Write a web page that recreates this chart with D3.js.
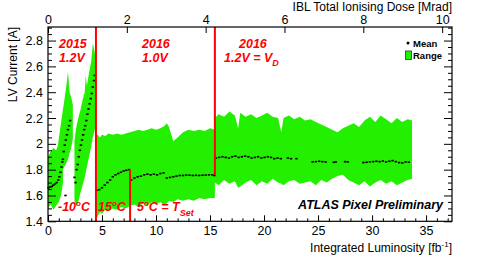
<!DOCTYPE html>
<html>
<head>
<meta charset="utf-8">
<script src="https://cdn.jsdelivr.net/npm/d3@7"></script>
<style>
  body { margin: 0; background: #fff; }
  svg { font-family: "Liberation Sans", Arial, Helvetica, sans-serif; }
</style>
</head>
<body>
<svg width="485" height="264"></svg>
<script>
// --- data ---
// green "Range" band, null = gap between runs
var bandLumi = [0, 0.25, 0.5, 0.75, 1.0, 1.2, 1.4, null,
  0.9, 1.1, 1.3, 1.5, 1.7, 1.85, 2.0, 2.15, 2.3, null,
  2.45, 2.6, 2.8, 3.0, 3.2, 3.4, 3.5, 3.6, 3.8, 4.0, 4.15, 4.3, 4.4, null,
  4.45, 4.6, 4.8, 5.0, 5.3, 5.6, 6.0, 6.4, 6.8, 7.2, 7.6, 8.0, 8.4, 8.8, 9.2, 9.6, 10.0, 10.4, 10.8, 11.0, 11.2, 11.6, 12.0, 12.5, 13.0, 13.5, 14.0, 14.5, 15.0, 15.45,
  15.45, 15.8, 16.3, 16.8, 17.3, 17.6, 17.8, 18.3, 18.8, 19.3, 19.8, 20.3, 20.8, 21.3, 21.6, 21.8, 22.3, 22.8, 23.3, 23.8, 24.3, 24.8, 25.3, 25.8, 26.3, 26.8, 27.3, 27.8, 28.3, 28.8, 29.3, 29.8, 30.3, 30.8, 31.3, 31.8, 32.3, 32.8, 33.3, 33.7];
var bandMin = [1.50, 1.53, 1.49, 1.52, 1.55, 1.60, 1.70, null,
  1.74, 1.76, 1.79, 1.82, 1.85, 1.88, 1.93, 1.97, 2.04, null,
  1.56, 1.52, 1.55, 1.62, 1.68, 1.74, 1.78, 1.82, 1.90, 1.98, 2.05, 2.10, 2.14, null,
  1.41, 1.44, 1.47, 1.46, 1.49, 1.48, 1.50, 1.49, 1.51, 1.50, 1.52, 1.53, 1.51, 1.54, 1.52, 1.55, 1.53, 1.55, 1.52, 1.54, 1.56, 1.55, 1.57, 1.56, 1.57, 1.56, 1.58, 1.57, 1.58, 1.58,
  1.70, 1.68, 1.72, 1.69, 1.71, 1.66, 1.67, 1.70, 1.72, 1.68, 1.71, 1.69, 1.73, 1.70, 1.69, 1.68, 1.71, 1.72, 1.69, 1.70, 1.71, 1.68, 1.72, 1.70, 1.73, 1.75, 1.76, 1.72, 1.70, 1.68, 1.71, 1.67, 1.70, 1.72, 1.69, 1.71, 1.68, 1.70, 1.72, 1.73];
var bandMax = [1.90, 1.94, 1.97, 1.95, 2.00, 2.04, 2.08, null,
  1.98, 2.10, 2.22, 2.33, 2.45, 2.56, 2.40, 2.36, 2.30, null,
  2.02, 2.12, 2.20, 2.26, 2.34, 2.40, 2.53, 2.45, 2.55, 2.64, 2.78, 2.72, 2.66, null,
  2.06, 2.07, 2.05, 2.07, 2.06, 2.08, 2.07, 2.08, 2.07, 2.08, 2.09, 2.10, 2.11, 2.10, 2.11, 2.12, 2.11, 2.12, 2.14, 2.16, 2.13, 2.02, 2.05, 2.09, 2.11, 2.10, 2.11, 2.10, 2.12, 2.11,
  2.20, 2.23, 2.21, 2.25, 2.22, 2.12, 2.24, 2.21, 2.23, 2.20, 2.22, 2.24, 2.21, 2.20, 2.09, 2.20, 2.22, 2.19, 2.21, 2.18, 2.19, 2.17, 2.15, 2.13, 2.11, 2.09, 2.12, 2.14, 2.16, 2.13, 2.18, 2.21, 2.17, 2.22, 2.19, 2.16, 2.20, 2.17, 2.19, 2.18];

// black "Mean" points
var meanLumi = [0.05, 0.2, 0.35, 0.5, 0.65, 0.8, 0.95, 1.05, 1.15, 1.25, 1.33, 1.38,
  1.45, 1.55, 1.62, 1.65, 1.75, 1.85, 1.95, 2.05,
  2.45, 2.55, 2.65, 2.75, 2.85, 2.95, 3.05, 3.15, 3.25, 3.35, 3.45, 3.55, 3.65, 3.75, 3.85, 3.95, 4.05, 4.15, 4.25, 4.32,
  4.5, 4.75, 5.0, 5.25, 5.5, 5.75, 6.0, 6.25, 6.5, 6.75, 7.0, 7.25, 7.5,
  7.7, 8.0, 8.3, 8.6, 8.9, 9.2, 9.5, 9.8, 10.1, 10.4, 10.7, 11.0, 11.3, 11.6, 11.9, 12.2, 12.5, 12.8, 13.1, 13.4, 13.7, 14.0, 14.3, 14.6, 14.9, 15.2, 15.4,
  15.55, 15.85, 16.15, 16.45, 16.75, 17.05, 17.35, 17.65, 17.95, 18.25, 18.55, 18.85, 19.15, 19.45, 19.75, 20.05, 20.35, 20.65, 20.95, 21.25, 21.55, 22.2, 22.5, 23.0,
  24.5, 24.8, 25.1, 25.4, 25.7, 26.45, 26.65, 27.5, 27.75, 29.2, 29.5, 29.8, 30.1, 30.4, 30.7, 31.0, 31.3, 31.6, 31.9, 32.2, 32.5, 32.8, 33.1, 33.4];
var meanCurrent = [1.66, 1.665, 1.67, 1.68, 1.69, 1.70, 1.72, 1.745, 1.78, 1.82, 1.86, 1.88,
  1.94, 1.99, 1.60, 2.03, 2.07, 2.11, 2.14, 2.18,
  1.74, 1.70, 1.80, 1.84, 1.90, 1.95, 1.99, 2.03, 2.07, 2.11, 2.14, 2.18, 2.23, 2.27, 2.31, 2.35, 2.39, 2.44, 2.49, 2.53,
  1.64, 1.645, 1.66, 1.68, 1.70, 1.72, 1.745, 1.76, 1.77, 1.78, 1.79, 1.795, 1.80,
  1.72, 1.735, 1.745, 1.75, 1.76, 1.765, 1.76, 1.765, 1.76, 1.77, 1.775, 1.735, 1.74, 1.745, 1.75, 1.755, 1.755, 1.758, 1.757, 1.755, 1.756, 1.755, 1.757, 1.758, 1.76, 1.76, 1.755,
  1.89, 1.895, 1.90, 1.895, 1.89, 1.90, 1.905, 1.895, 1.90, 1.905, 1.90, 1.89, 1.895, 1.90, 1.89, 1.895, 1.90, 1.895, 1.885, 1.89, 1.885, 1.89, 1.885, 1.885,
  1.86, 1.862, 1.865, 1.862, 1.86, 1.857, 1.86, 1.862, 1.86, 1.855, 1.857, 1.86, 1.862, 1.865, 1.862, 1.867, 1.86, 1.865, 1.87, 1.862, 1.855, 1.852, 1.86, 1.858];

// red period boundaries
var boundaryLumi = [4.44, 7.6, 15.45];
var boundaryLow = [1.4, 1.4, 1.76];
var boundaryHigh = [2.905, 1.80, 2.905];

var yTicks = [1.4, 1.6, 1.8, 2, 2.2, 2.4, 2.6, 2.8];
var xTicks = [0, 5, 10, 15, 20, 25, 30, 35];
var doseTicks = [0, 2, 4, 6, 8, 10];

// --- chart ---
var svg = d3.select("svg"),
    padL = 48, padR = 452, padT = 27, padB = 221.3;

var x = d3.scaleLinear().domain([0, 37.4]).range([padL, padR]);
var xTop = d3.scaleLinear().domain([0, 10.25]).range([padL, padR]);
var y = d3.scaleLinear().domain([1.4, 2.905]).range([padB, padT]);

var idx = d3.range(bandLumi.length);
var band = d3.area()
    .defined(function(i) { return bandLumi[i] != null; })
    .x(function(i) { return x(bandLumi[i]); })
    .y0(function(i) { return y(bandMin[i]); })
    .y1(function(i) { return y(bandMax[i]); });

svg.append("path")
    .attr("d", band(idx))
    .attr("fill", "#22f000");

// mean markers drawn as short smeared dashes, like the original
svg.append("g").selectAll("rect")
    .data(d3.range(meanLumi.length))
    .enter().append("rect")
      .attr("x", function(i) { return x(meanLumi[i]) - 1.2; })
      .attr("y", function(i) { return y(meanCurrent[i]) - 0.8; })
      .attr("width", 2.4)
      .attr("height", 1.6)
      .attr("fill", "#000");

svg.append("g").selectAll("line")
    .data(d3.range(boundaryLumi.length))
    .enter().append("line")
      .attr("x1", function(i) { return x(boundaryLumi[i]); })
      .attr("x2", function(i) { return x(boundaryLumi[i]); })
      .attr("y1", function(i) { return y(boundaryLow[i]); })
      .attr("y2", function(i) { return y(boundaryHigh[i]); })
      .attr("stroke", "#ff0000")
      .attr("stroke-width", 2);

// axes
function minor(lo, hi, step, majors) {
  return d3.range(Math.round((hi - lo) / step) + 1).map(function(k) { return lo + k * step; })
    .filter(function(v) { return !majors.some(function(m) { return Math.abs(m - v) < 1e-6; }); });
}
var fmt = function(d) { return d3.format("")(+d.toFixed(1)); };

svg.append("g").attr("transform", "translate(" + padL + ",0)")
    .call(d3.axisLeft(y).tickValues(yTicks).tickSize(-8).tickPadding(5).tickFormat(fmt));
svg.append("g").attr("transform", "translate(" + padL + ",0)")
    .call(d3.axisLeft(y).tickValues(minor(1.4, 2.9, 0.05, yTicks)).tickSize(-4).tickFormat(""));
svg.append("g").attr("transform", "translate(" + padR + ",0)")
    .call(d3.axisRight(y).tickValues(yTicks).tickSize(-8).tickFormat(""));
svg.append("g").attr("transform", "translate(" + padR + ",0)")
    .call(d3.axisRight(y).tickValues(minor(1.4, 2.9, 0.05, yTicks)).tickSize(-4).tickFormat(""));
svg.append("g").attr("transform", "translate(0," + padB + ")")
    .call(d3.axisBottom(x).tickValues(xTicks).tickSize(-6).tickPadding(5));
svg.append("g").attr("transform", "translate(0," + padB + ")")
    .call(d3.axisBottom(x).tickValues(minor(0, 37, 1, xTicks)).tickSize(-3).tickFormat(""));
svg.append("g").attr("transform", "translate(0," + padT + ")")
    .call(d3.axisTop(xTop).tickValues(doseTicks).tickSize(-6).tickPadding(3.5));

svg.selectAll(".domain").remove();
svg.selectAll(".tick line").attr("stroke", "#000");
svg.selectAll(".tick text").attr("font-size", 12.5).attr("font-family", "Liberation Sans, Arial, sans-serif").attr("fill", "#000");

svg.append("rect")
    .attr("x", padL).attr("y", padT)
    .attr("width", padR - padL).attr("height", padB - padT)
    .attr("fill", "none").attr("stroke", "#000").attr("stroke-width", 1.2);

// titles
svg.append("text").attr("x", padR).attr("y", 10.5)
    .attr("text-anchor", "end").attr("font-size", 12)
    .text("IBL Total Ionising Dose [Mrad]");

var xt = svg.append("text").attr("x", padR).attr("y", 252)
    .attr("text-anchor", "end").attr("font-size", 12);
xt.append("tspan").text("Integrated Luminosity [fb");
xt.append("tspan").attr("dy", -5).attr("font-size", 8).text("-1");
xt.append("tspan").attr("dy", 5).text("]");

svg.append("text")
    .attr("transform", "translate(17," + padT + ") rotate(-90)")
    .attr("text-anchor", "end").attr("font-size", 12)
    .text("LV Current [A]");

// red period labels
var red = svg.append("g").attr("fill", "#ff0000")
    .attr("font-weight", "bold").attr("font-style", "italic").attr("font-size", 12.5);

red.append("text").attr("x", 59).attr("y", 48).text("2015");
red.append("text").attr("x", 59).attr("y", 62).text("1.2V");
red.append("text").attr("x", 142).attr("y", 48).text("2016");
red.append("text").attr("x", 142).attr("y", 62).text("1.0V");
red.append("text").attr("x", 239).attr("y", 48).text("2016");
var vd = red.append("text").attr("x", 224).attr("y", 62);
vd.append("tspan").text("1.2V = V");
vd.append("tspan").attr("dy", 4).attr("font-size", 9).text("D");

function degree(t, xx, before, after) {
  t.attr("x", xx).attr("y", 211);
  t.append("tspan").text(before);
  t.append("tspan").attr("dy", -5).attr("font-size", 8).text("o");
  t.append("tspan").attr("dy", 5).text(after);
  return t;
}
degree(red.append("text"), 58, "-10", "C");
degree(red.append("text"), 98, "15", "C");
var ts = degree(red.append("text"), 137, "5", "C = T");
ts.append("tspan").attr("dy", 5).attr("font-size", 9).text("Set");

// ATLAS label
svg.append("text").attr("x", 443).attr("y", 209)
    .attr("text-anchor", "end").attr("font-weight", "bold").attr("font-style", "italic")
    .attr("font-size", 12.5).text("ATLAS Pixel Preliminary");

// legend
svg.append("circle").attr("cx", 408).attr("cy", 43).attr("r", 1.5).attr("fill", "#000");
svg.append("text").attr("x", 413).attr("y", 46.5).attr("font-size", 9.5).attr("font-weight", "bold").text("Mean");
svg.append("rect").attr("x", 405.5).attr("y", 51).attr("width", 6).attr("height", 8.5)
    .attr("fill", "#22f000").attr("stroke", "#333").attr("stroke-width", 0.8);
svg.append("text").attr("x", 413).attr("y", 59).attr("font-size", 9.5).attr("font-weight", "bold").text("Range");
</script>
</body>
</html>
